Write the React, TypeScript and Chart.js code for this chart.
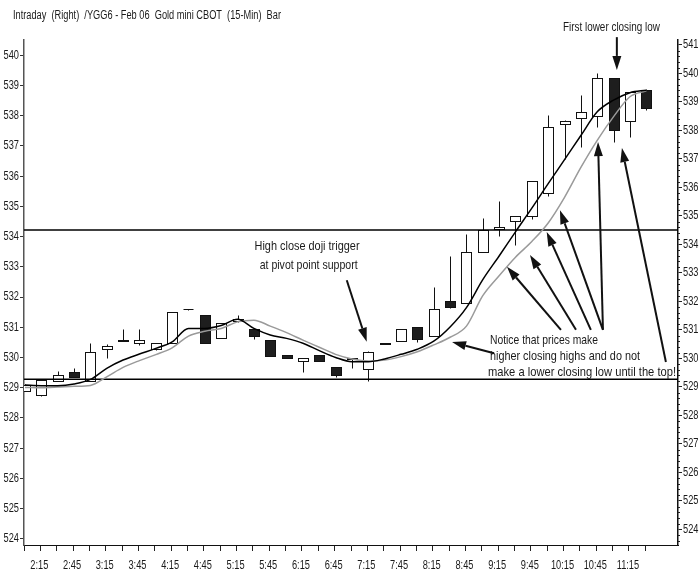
import React, { useEffect, useRef } from "react";
import { Chart, registerables } from "chart.js";

Chart.register(...registerables);

const TITLE = "Intraday  (Right)  /YGG6 - Feb 06  Gold mini CBOT  (15-Min)  Bar";

const times = ["2:00","2:15","2:30","2:45","3:00","3:15","3:30","3:45","4:00","4:15","4:30","4:45","5:00","5:15","5:30","5:45","6:00","6:15","6:30","6:45","7:00","7:15","7:30","7:45","8:00","8:15","8:30","8:45","9:00","9:15","9:30","9:45","10:00","10:15","10:30","10:45","11:00","11:15","11:30"];

const opens = [528.85, 528.70, 529.21, 529.53, 529.21, 530.31, 530.62, 530.53, 530.32, 530.53, 531.72, 531.52, 530.70, 531.30, 531.03, 530.64, 530.12, 529.90, 530.12, 529.70, 529.96, 529.61, 530.52, 530.61, 531.11, 530.78, 532.00, 531.94, 533.74, 534.53, 534.82, 535.00, 535.80, 538.22, 538.42, 538.50, 539.85, 538.33, 539.40];
const highs = [529.10, 529.24, 529.55, 529.65, 530.53, 530.50, 531.02, 531.02, 530.53, 531.64, 531.73, 531.52, 531.23, 531.52, 531.03, 530.64, 530.12, 530.00, 530.12, 529.70, 530.00, 530.25, 530.54, 531.03, 531.11, 532.50, 533.60, 534.35, 534.91, 535.53, 535.00, 536.22, 538.55, 538.35, 539.24, 540.00, 539.85, 539.33, 539.45];
const lows = [528.85, 528.69, 529.21, 529.33, 529.21, 530.00, 530.62, 530.47, 530.30, 530.53, 531.71, 530.53, 530.70, 531.28, 530.69, 530.08, 530.00, 529.53, 529.90, 529.35, 529.65, 529.21, 530.52, 530.61, 530.58, 530.78, 531.75, 531.94, 533.74, 534.29, 533.97, 534.88, 535.70, 537.00, 537.40, 538.10, 537.60, 537.78, 538.72];
const closes = [529.05, 529.24, 529.41, 529.33, 530.21, 530.43, 530.64, 530.64, 530.53, 531.64, 531.73, 530.53, 531.23, 531.38, 530.78, 530.08, 530.01, 530.00, 529.90, 529.42, 530.00, 530.23, 530.54, 531.03, 530.68, 531.73, 531.81, 533.74, 534.50, 534.62, 535.00, 536.22, 538.10, 538.33, 538.63, 539.85, 538.00, 539.33, 538.80];

const fastMA = [529.06, 529.04, 529.04, 529.10, 529.26, 529.65, 529.94, 530.15, 530.35, 530.58, 531.05, 531.05, 531.15, 531.37, 531.05, 530.82, 530.70, 530.53, 530.27, 530.03, 529.88, 529.88, 529.98, 530.14, 530.32, 530.60, 531.10, 531.78, 532.76, 533.59, 534.44, 535.27, 536.13, 536.97, 537.82, 538.65, 539.06, 539.32, 539.41];
const slowMA = [528.98, 528.97, 528.99, 529.02, 529.05, 529.35, 529.68, 529.92, 530.13, 530.37, 530.78, 530.95, 531.05, 531.28, 531.34, 531.13, 530.90, 530.64, 530.39, 530.14, 529.98, 529.91, 529.94, 530.06, 530.23, 530.47, 530.74, 531.13, 532.20, 532.90, 533.55, 534.10, 534.75, 535.65, 536.70, 537.65, 538.48, 539.18, 539.39];

const pivotLevel = 534.5;
const supportLevel = 529.27;

// annotation texts in data units (bar index, price on right axis)
const noteTexts = [
  { text: "High close doji trigger", x: 17.25, y: 533.91, w: 105, align: "center" },
  { text: "at pivot point support", x: 17.35, y: 533.27, w: 98, align: "center" },
  { text: "First lower closing low", x: 35.87, y: 541.62, w: 97, align: "center" },
  { text: "Notice that prices make", x: 28.44, y: 530.64, w: 108, align: "left" },
  { text: "higher closing highs and do not", x: 28.44, y: 530.08, w: 150, align: "left" },
  { text: "make a lower closing low until the top!", x: 28.32, y: 529.52, w: 188, align: "left" },
];
// arrows: [tailBar, tailPrice, tipBar, tipPrice]
const noteArrows = [
  [19.68, 532.74, 20.9, 530.58],
  [36.2, 541.27, 36.2, 540.12],
  [28.69, 530.18, 26.12, 530.57],
  [32.78, 531.0, 29.48, 533.21],
  [33.7, 531.0, 30.89, 533.63],
  [34.61, 531.0, 31.91, 534.43],
  [35.35, 531.0, 32.72, 535.2],
  [35.35, 531.0, 35.05, 537.59],
  [39.2, 529.87, 36.51, 537.38],
];

const FONT = "'Liberation Sans', Arial, Helvetica, sans-serif";

function drawSq(ctx: CanvasRenderingContext2D, s: string, x: number, y: number, size: number, sq: number, align: CanvasTextAlign) {
  ctx.font = `${size}px ${FONT}`;
  ctx.textAlign = align;
  ctx.textBaseline = "middle";
  const w = ctx.measureText(s).width;
  ctx.fillText(s, x, y, w * sq);
}
function drawW(ctx: CanvasRenderingContext2D, s: string, x: number, y: number, size: number, maxW: number, align: CanvasTextAlign) {
  ctx.font = `${size}px ${FONT}`;
  ctx.textAlign = align;
  ctx.textBaseline = "middle";
  const w = ctx.measureText(s).width;
  if (w > maxW) ctx.fillText(s, x, y, maxW);
  else ctx.fillText(s, x, y);
}
function arrow(ctx: CanvasRenderingContext2D, x1: number, y1: number, x2: number, y2: number) {
  const head = 14, hw = 4.5;
  const ang = Math.atan2(y2 - y1, x2 - x1);
  const bx = x2 - head * Math.cos(ang), by = y2 - head * Math.sin(ang);
  ctx.strokeStyle = "#111";
  ctx.fillStyle = "#111";
  ctx.lineWidth = 2;
  ctx.beginPath();
  ctx.moveTo(x1, y1);
  ctx.lineTo(bx, by);
  ctx.stroke();
  ctx.beginPath();
  ctx.moveTo(x2, y2);
  ctx.lineTo(bx + hw * Math.sin(ang), by - hw * Math.cos(ang));
  ctx.lineTo(bx - hw * Math.sin(ang), by + hw * Math.cos(ang));
  ctx.closePath();
  ctx.fill();
}

const candlePlugin = {
  id: "candles",
  beforeDatasetsDraw(chart: any) {
    const { ctx, chartArea: a, scales } = chart;
    const xs = scales.x, ys = scales.yR;
    ctx.save();
    ctx.beginPath();
    ctx.rect(a.left, a.top, a.right - a.left, a.bottom - a.top);
    ctx.clip();
    const half = 5;
    ctx.lineWidth = 1;
    ctx.strokeStyle = "#111";
    for (let i = 0; i < opens.length; i++) {
      const x = Math.round(xs.getPixelForValue(i)) + 0.5;
      const yo = ys.getPixelForValue(opens[i]);
      const yc = ys.getPixelForValue(closes[i]);
      const yh = Math.round(ys.getPixelForValue(highs[i])) + 0.5;
      const yl = Math.round(ys.getPixelForValue(lows[i])) + 0.5;
      const top = Math.round(Math.min(yo, yc)) + 0.5;
      const bot = Math.round(Math.max(yo, yc)) + 0.5;
      ctx.beginPath();
      ctx.moveTo(x, yh);
      ctx.lineTo(x, yl);
      ctx.stroke();
      if (bot - top < 1) {
        ctx.beginPath();
        ctx.moveTo(x - half, top);
        ctx.lineTo(x + half, top);
        ctx.stroke();
      } else {
        ctx.fillStyle = closes[i] >= opens[i] ? "#ffffff" : "#1e1e1e";
        ctx.fillRect(x - half, top, half * 2, bot - top);
        ctx.strokeRect(x - half, top, half * 2, bot - top);
      }
    }
    ctx.restore();
  },
};

const labelPlugin = {
  id: "labels",
  afterDraw(chart: any) {
    const { ctx, chartArea: a, scales } = chart;
    const xs = scales.x, yL = scales.yL, yR = scales.yR;
    ctx.save();
    ctx.fillStyle = "#1a1a1a";
    // title
    drawW(ctx, TITLE, 13, 16, 12, 268, "left");
    // left axis labels
    yL.ticks.forEach((t: any) => {
      if (Number.isInteger(t.value)) drawSq(ctx, String(t.value), a.left - 5, yL.getPixelForValue(t.value), 12.5, 0.74, "right");
    });
    // right axis labels
    yR.ticks.forEach((t: any) => {
      if (Number.isInteger(t.value)) drawSq(ctx, String(t.value), a.right + 5, yR.getPixelForValue(t.value), 12.5, 0.74, "left");
    });
    // right minor ticks
    ctx.strokeStyle = "#222";
    ctx.lineWidth = 1;
    for (let k = Math.ceil(yR.min * 5); k <= Math.floor(yR.max * 5); k++) {
      if (k % 5 === 0) continue;
      const y = Math.round(yR.getPixelForValue(k / 5)) + 0.5;
      ctx.beginPath();
      ctx.moveTo(a.right, y);
      ctx.lineTo(a.right + 2, y);
      ctx.stroke();
    }
    // bottom labels
    times.forEach((s, i) => {
      if (i % 2 === 1) drawSq(ctx, s, xs.getPixelForValue(i) - 2, a.bottom + 21, 12.5, 0.74, "center");
    });
    // annotation texts
    noteTexts.forEach((n) => {
      drawW(ctx, n.text, xs.getPixelForValue(n.x), yR.getPixelForValue(n.y), 13, n.w, n.align as CanvasTextAlign);
    });
    noteArrows.forEach(([x1, y1, x2, y2]) => {
      arrow(ctx, xs.getPixelForValue(x1), yR.getPixelForValue(y1), xs.getPixelForValue(x2), yR.getPixelForValue(y2));
    });
    ctx.restore();
  },
};

export default function App() {
  const ref = useRef<HTMLCanvasElement>(null);
  useEffect(() => {
    const canvas = ref.current!;
    const pts = (arr: number[]) => arr.map((v, i) => ({ x: i, y: v }));
    const chart = new Chart(canvas, {
      type: "line",
      data: {
        datasets: [
          { label: "fast", data: pts(fastMA), borderColor: "#000", borderWidth: 1.5, pointRadius: 0, cubicInterpolationMode: "monotone", xAxisID: "x", yAxisID: "yR" },
          { label: "slow", data: pts(slowMA), borderColor: "#9a9a9a", borderWidth: 1.5, pointRadius: 0, cubicInterpolationMode: "monotone", xAxisID: "x", yAxisID: "yR" },
          { label: "pivot", data: [{ x: -1, y: pivotLevel }, { x: 41, y: pivotLevel }], borderColor: "#000", borderWidth: 1.5, pointRadius: 0, xAxisID: "x", yAxisID: "yR" },
          { label: "support", data: [{ x: -1, y: supportLevel }, { x: 41, y: supportLevel }], borderColor: "#000", borderWidth: 1.5, pointRadius: 0, xAxisID: "x", yAxisID: "yR" },
        ] as any,
      },
      options: {
        animation: false,
        responsive: false,
        devicePixelRatio: 1,
        layout: { padding: { top: 40, left: 0, right: 0, bottom: 0 } },
        plugins: { legend: { display: false }, tooltip: { enabled: false }, title: { display: false } },
        elements: { point: { radius: 0 } },
        scales: {
          x: {
            type: "linear",
            position: "bottom",
            min: -0.06,
            max: 39.94,
            afterFit: (s: any) => { s.height = 32; },
            ticks: { stepSize: 1, display: false, includeBounds: false },
            grid: {
              drawOnChartArea: false,
              drawTicks: true,
              tickLength: 6,
              tickColor: (c: any) => (c.tick && c.tick.value > 38.5 ? "rgba(0,0,0,0)" : "#222"),
            },
            border: { display: true, color: "#111", width: 1 },
          },
          yL: {
            type: "linear",
            position: "left",
            min: 523.8,
            max: 540.5,
            afterFit: (s: any) => { s.width = 24; },
            ticks: { stepSize: 1, display: false, includeBounds: false },
            grid: { drawOnChartArea: false, drawTicks: true, tickLength: 4, tickColor: "#333" },
            border: { display: true, color: "#555", width: 1.5 },
          },
          yR: {
            type: "linear",
            position: "right",
            min: 523.45,
            max: 541.17,
            afterFit: (s: any) => { s.width = 21; },
            ticks: { stepSize: 1, display: false, includeBounds: false },
            grid: { drawOnChartArea: false, drawTicks: true, tickLength: 4, tickColor: "#222" },
            border: { display: true, color: "#111", width: 1.5 },
          },
        },
      } as any,
      plugins: [candlePlugin, labelPlugin],
    });
    return () => chart.destroy();
  }, []);
  return (
    <div style={{ position: "absolute", left: 0, top: 0, width: 699, height: 577, background: "#fff" }}>
      <canvas ref={ref} width={699} height={577} style={{ display: "block" }} />
    </div>
  );
}
